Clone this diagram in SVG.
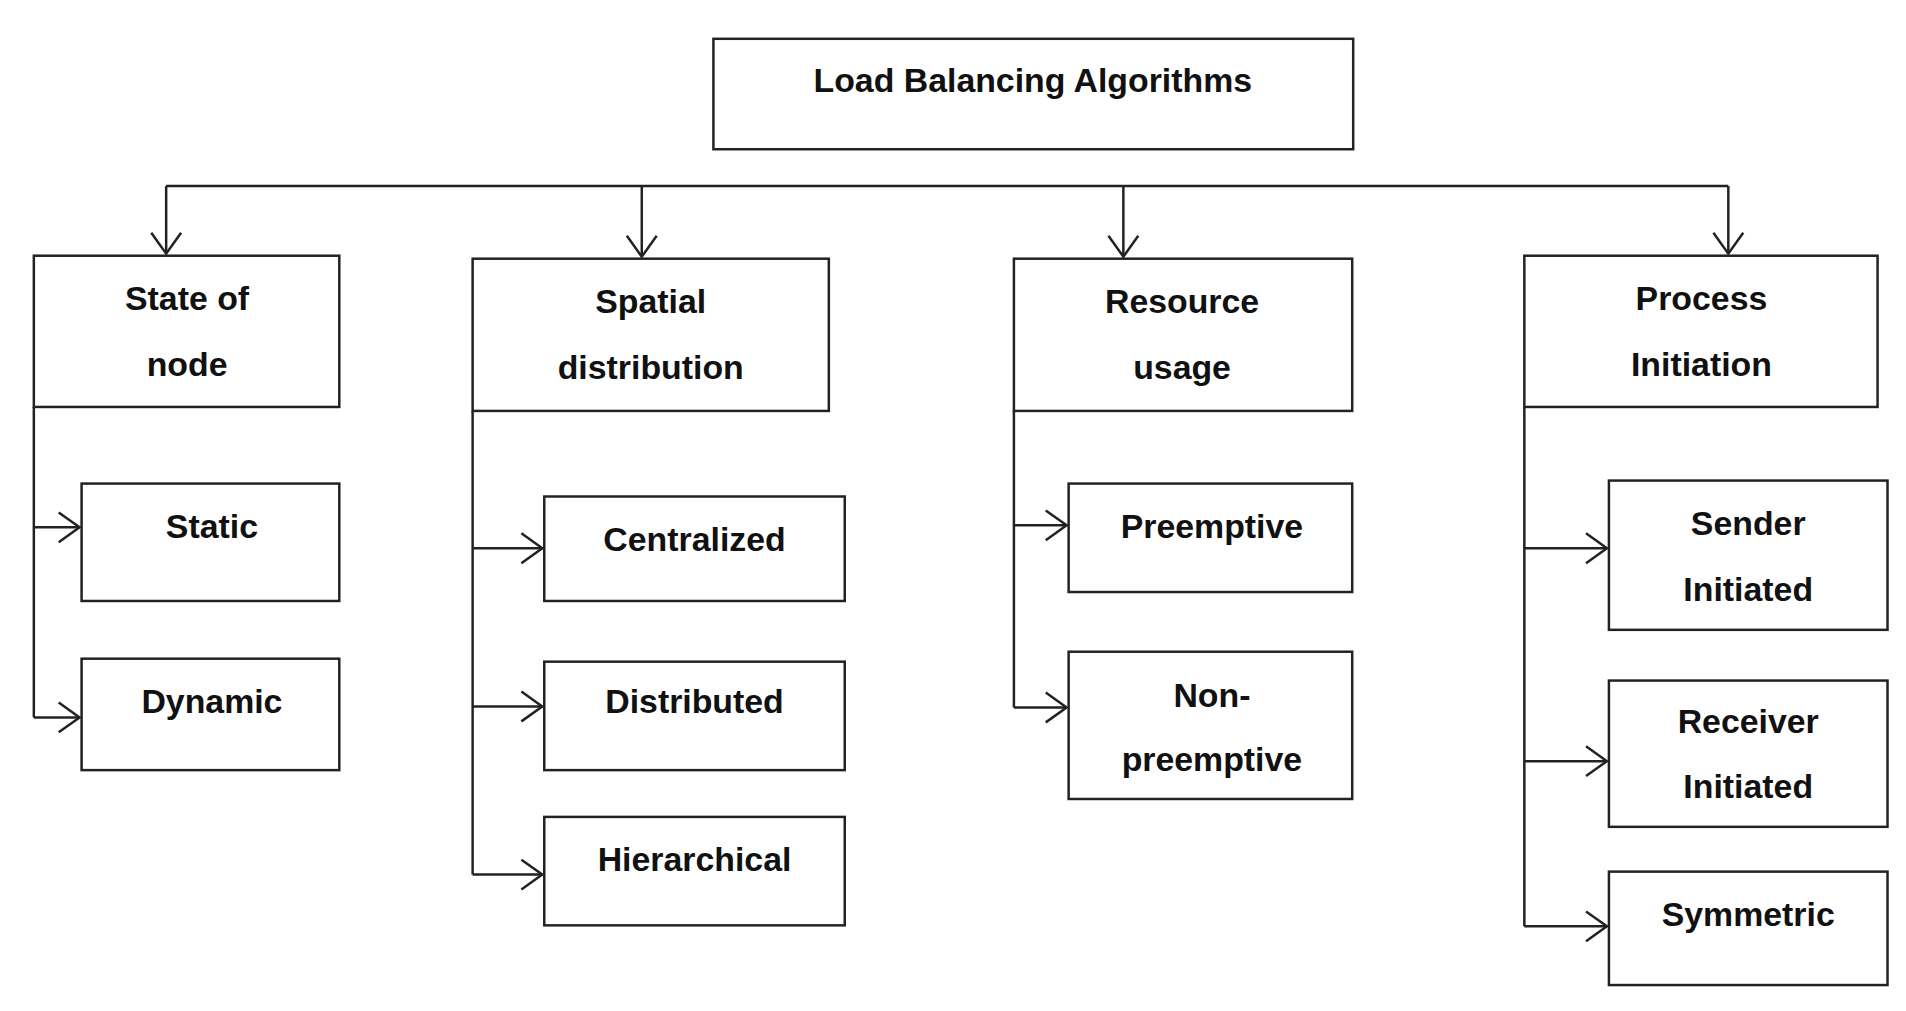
<svg xmlns="http://www.w3.org/2000/svg" width="1906" height="1011" viewBox="0 0 1906 1011">
<style>
.b{fill:#fff;stroke:#222;stroke-width:2.5}
.t{font-family:"Liberation Sans",Arial,sans-serif;font-weight:bold;font-size:34px;fill:#111;text-anchor:middle}
.c{fill:none;stroke:#222;stroke-width:2.5}
</style>
<defs>
<marker id="a" markerWidth="30" markerHeight="34" refX="27" refY="17" orient="auto" markerUnits="userSpaceOnUse">
<polyline points="6,2 27,17 6,32" fill="none" stroke="#222" stroke-width="2.5"/>
</marker>
</defs>
<rect width="1906" height="1011" fill="#fff"/>
<g transform="scale(0.995)">
<g id="connectors">
<path class="c" d="M167,187 H1737"/>
<path class="c" d="M167,187 V255" marker-end="url(#a)"/>
<path class="c" d="M645,187 V258" marker-end="url(#a)"/>
<path class="c" d="M1129,187 V258" marker-end="url(#a)"/>
<path class="c" d="M1737,187 V255" marker-end="url(#a)"/>
<path class="c" d="M34,409 V721"/>
<path class="c" d="M34,530 H80" marker-end="url(#a)"/>
<path class="c" d="M34,721 H80" marker-end="url(#a)"/>
<path class="c" d="M475,413 V879"/>
<path class="c" d="M475,551 H545" marker-end="url(#a)"/>
<path class="c" d="M475,710 H545" marker-end="url(#a)"/>
<path class="c" d="M475,879 H545" marker-end="url(#a)"/>
<path class="c" d="M1019,413 V711"/>
<path class="c" d="M1019,528 H1072" marker-end="url(#a)"/>
<path class="c" d="M1019,711 H1072" marker-end="url(#a)"/>
<path class="c" d="M1532,409 V931"/>
<path class="c" d="M1532,551 H1615" marker-end="url(#a)"/>
<path class="c" d="M1532,765 H1615" marker-end="url(#a)"/>
<path class="c" d="M1532,931 H1615" marker-end="url(#a)"/>
</g>
<g id="root"><rect class="b" x="717" y="39" width="643" height="111"/><text class="t" x="1038" y="92">Load Balancing Algorithms</text></g>
<g id="state"><rect class="b" x="34" y="257" width="307" height="152"/><text class="t" x="188" y="312">State of</text><text class="t" x="188" y="378">node</text></g>
<g id="spatial"><rect class="b" x="475" y="260" width="358" height="153"/><text class="t" x="654" y="315">Spatial</text><text class="t" x="654" y="381">distribution</text></g>
<g id="resource"><rect class="b" x="1019" y="260" width="340" height="153"/><text class="t" x="1188" y="315">Resource</text><text class="t" x="1188" y="381">usage</text></g>
<g id="process"><rect class="b" x="1532" y="257" width="355" height="152"/><text class="t" x="1710" y="312">Process</text><text class="t" x="1710" y="378">Initiation</text></g>
<g id="static"><rect class="b" x="82" y="486" width="259" height="118"/><text class="t" x="213" y="541">Static</text></g>
<g id="dynamic"><rect class="b" x="82" y="662" width="259" height="112"/><text class="t" x="213" y="717">Dynamic</text></g>
<g id="centralized"><rect class="b" x="547" y="499" width="302" height="105"/><text class="t" x="698" y="554">Centralized</text></g>
<g id="distributed"><rect class="b" x="547" y="665" width="302" height="109"/><text class="t" x="698" y="717">Distributed</text></g>
<g id="hierarchical"><rect class="b" x="547" y="821" width="302" height="109"/><text class="t" x="698" y="875">Hierarchical</text></g>
<g id="preemptive"><rect class="b" x="1074" y="486" width="285" height="109"/><text class="t" x="1218" y="541">Preemptive</text></g>
<g id="nonpreemptive"><rect class="b" x="1074" y="655" width="285" height="148"/><text class="t" x="1218" y="711">Non-</text><text class="t" x="1218" y="775">preemptive</text></g>
<g id="sender"><rect class="b" x="1617" y="483" width="280" height="150"/><text class="t" x="1757" y="538">Sender</text><text class="t" x="1757" y="604">Initiated</text></g>
<g id="receiver"><rect class="b" x="1617" y="684" width="280" height="147"/><text class="t" x="1757" y="737">Receiver</text><text class="t" x="1757" y="802">Initiated</text></g>
<g id="symmetric"><rect class="b" x="1617" y="876" width="280" height="114"/><text class="t" x="1757" y="931">Symmetric</text></g>
</g>
</svg>
